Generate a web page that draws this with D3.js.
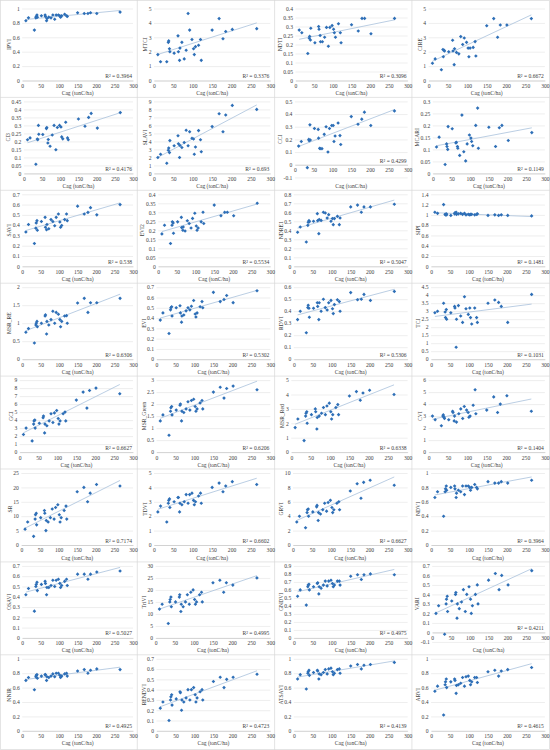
<!DOCTYPE html>
<html><head><meta charset="utf-8">
<script src="https://cdn.jsdelivr.net/npm/d3@7"></script>
<style>
body{margin:0;background:#fff}
svg{display:block}
text{font-family:"Liberation Serif","Times New Roman",serif;fill:#404040}
</style></head><body>
<svg id="c" width="550" height="750"></svg>
<script>
// ---------- DATA ----------
const cag = [10,17,33,37,38,40,41,52,62,63,66,67,72,78,83,88,92,98,102,104,107,115,120,122,150,168,178,185,202,265];
const xTicks = [0,50,100,150,200,250,300];
const xTitle = "Cag (tonC/ha)";
const indexNames = ["IPVI","MTCI","NDTI","CIRE","CI3","SLAVI","CCI","MCARI","SAVI","EVI2","NDRE1","SIPI","MSR_RE","EVI","RDVI","TCI","GCI","MSR_Green","MSR_Red","CVI","SR","TDVI","GRVI","NDVI","OSAVI","TriVI","GNDVI","VARI","NNIR","RENDVI","ATSAVI","ARVI"];
const yMin  = [0,0,0,0, 0,0,-0.1,0, 0,0,0,0, 0,0,0,0, 0,0,0,0, 0,0,0,0, 0,0,0,-0.1, 0,0,0,0];
const yMax  = [1,5,0.4,5, 0.45,9,0.5,0.3, 0.7,0.4,0.8,1.4, 2,0.7,0.6,4.5, 9,3,5,6, 25,5,10,1, 0.7,30,0.9,0.7, 1,0.7,1,1];
const yStep = [0.2,1,0.05,1, 0.05,1,0.1,0.05, 0.1,0.05,0.1,0.2, 0.5,0.1,0.1,0.5, 1,0.5,1,1, 5,1,2,0.2, 0.1,5,0.1,0.1, 0.2,0.1,0.2,0.2];
const r2Labels = ["0.3964","0.3376","0.3096","0.6672","0.4176","0.693","0.4299","0.1149","0.538","0.5534","0.5047","0.1481","0.6306","0.5302","0.5306","0.1031","0.6627","0.6206","0.6338","0.1404","0.7174","0.6602","0.6627","0.3964","0.5027","0.4995","0.4975","0.4211","0.4925","0.4723","0.4139","0.4615"];

const ipvi  = [0.83,0.87,0.70,0.87,0.89,0.91,0.88,0.90,0.91,0.89,0.83,0.86,0.88,0.87,0.91,0.85,0.91,0.91,0.90,0.88,0.90,0.92,0.90,0.89,0.94,0.93,0.93,0.94,0.93,0.95];
const mtci  = [1.8,1.3,1.3,2.65,2.75,2.2,2.0,1.9,3.1,2.0,1.4,2.25,2.65,1.5,2.1,4.65,3.5,2.85,2.2,1.8,2.35,2.45,2.85,1.4,3.5,4.3,2.9,3.4,3.55,3.6];
const ndti  = [0.28,0.265,0.15,0.235,0.245,0.225,0.29,0.21,0.30,0.285,0.25,0.215,0.215,0.24,0.295,0.19,0.295,0.305,0.285,0.265,0.24,0.315,0.265,0.21,0.31,0.275,0.345,0.345,0.26,0.345];
const cire  = [1.2,1.5,0.75,2.15,1.65,2.1,2.05,2.0,2.8,2.05,1.1,2.2,1.95,1.85,3.05,2.5,2.95,2.65,2.25,1.65,2.25,2.3,2.7,1.7,3.8,4.3,3.0,3.85,3.85,4.3];
const ci3   = [0.21,0.222,0.057,0.215,0.21,0.30,0.245,0.243,0.28,0.287,0.19,0.212,0.17,0.24,0.30,0.148,0.287,0.30,0.29,0.228,0.216,0.32,0.222,0.21,0.34,0.295,0.35,0.375,0.283,0.38];
const slavi = [1.98,2.4,1.26,2.9,3.16,2.6,4.1,3.45,4.7,3.7,1.98,3.5,3.24,3.87,5.4,3.45,5.2,4.4,4.3,2.4,3.3,5.35,4.2,2.7,5.85,7.45,5.2,7.3,8.5,8.0];
const cci   = [0.147,0.183,-0.023,0.20,0.19,0.315,0.195,0.286,0.279,0.21,0.13,0.127,0.127,0.24,0.30,0.10,0.286,0.31,0.31,0.183,0.227,0.33,0.23,0.16,0.38,0.32,0.36,0.415,0.31,0.425];
const mcari = [0.11,0.151,0.037,0.123,0.112,0.10,0.195,0.186,0.127,0.13,0.112,0.105,0.075,0.243,0.09,0.052,0.123,0.16,0.147,0.133,0.115,0.2,0.272,0.105,0.192,0.112,0.19,0.2,0.137,0.17];
const savi  = [0.333,0.406,0.222,0.371,0.422,0.444,0.35,0.435,0.476,0.38,0.355,0.406,0.365,0.454,0.435,0.394,0.476,0.508,0.43,0.38,0.397,0.454,0.508,0.444,0.585,0.508,0.524,0.57,0.50,0.60];
const evi2  = [0.18,0.228,0.127,0.228,0.247,0.241,0.184,0.247,0.272,0.215,0.20,0.218,0.196,0.253,0.238,0.213,0.266,0.295,0.224,0.20,0.213,0.247,0.30,0.238,0.34,0.281,0.30,0.30,0.281,0.35];
const ndre1 = [0.378,0.437,0.27,0.455,0.49,0.507,0.496,0.5,0.585,0.507,0.363,0.52,0.51,0.60,0.592,0.537,0.574,0.5,0.53,0.463,0.53,0.555,0.463,0.537,0.66,0.68,0.60,0.66,0.66,0.69];
const sipi  = [1.05,1.03,1.2,1.01,1.0,1.02,1.0,0.99,1.02,1.04,1.05,1.01,1.02,1.03,1.01,1.03,1.0,1.01,1.0,1.01,1.01,1.0,1.01,1.02,0.99,1.0,0.99,1.0,0.99,0.98];
const msrRe = [0.75,0.85,0.45,0.95,1.0,1.05,0.9,1.0,1.2,1.23,0.7,1.05,0.95,1.1,1.33,1.0,1.3,1.25,1.1,0.9,1.05,1.2,1.21,1.0,1.56,1.69,1.3,1.57,1.57,1.69];
const evi   = [0.38,0.45,0.25,0.48,0.50,0.51,0.42,0.50,0.52,0.45,0.36,0.42,0.43,0.47,0.50,0.48,0.515,0.57,0.44,0.41,0.45,0.51,0.56,0.50,0.65,0.56,0.58,0.62,0.55,0.665];
const rdvi  = [0.33,0.40,0.22,0.43,0.45,0.425,0.35,0.425,0.47,0.44,0.33,0.47,0.40,0.50,0.43,0.41,0.47,0.49,0.42,0.38,0.455,0.495,0.48,0.40,0.555,0.495,0.50,0.54,0.49,0.565];
const tci   = [2.9,3.0,3.5,2.95,2.6,3.1,2.5,2.9,3.3,3.2,0.75,2.5,3.35,2.7,2.3,3.9,3.15,2.8,3.2,2.6,2.2,3.2,2.6,2.3,3.5,3.7,3.55,3.3,2.3,4.05];
const gci   = [2.2,3.0,1.4,3.5,3.9,4.0,3.0,3.6,4.3,4.5,2.4,3.5,3.3,3.9,4.8,3.7,4.9,5.2,4.2,3.5,3.9,4.8,5.0,3.9,6.5,7.5,5.5,7.7,8.0,7.3];
const msrGreen = [1.3,1.55,0.7,1.7,1.85,1.9,1.55,1.75,1.95,2.0,1.3,1.7,1.65,1.8,2.1,1.75,2.15,2.2,1.9,1.7,1.8,2.05,2.15,1.8,2.5,2.7,2.25,2.65,2.75,2.6];
const msrRed   = [1.7,2.3,0.8,2.5,2.7,2.8,2.0,2.6,3.0,2.8,1.6,2.4,2.5,2.7,3.1,2.6,3.2,3.4,2.8,2.3,2.6,3.1,3.3,2.6,3.9,4.2,3.6,4.1,4.3,4.0];
const cvi   = [3.0,2.7,2.2,3.0,3.1,2.9,2.8,2.7,3.4,3.3,2.6,3.0,2.5,3.2,3.6,2.8,3.8,3.5,3.3,2.9,3.0,3.9,5.2,3.2,3.5,4.6,3.3,4.0,4.7,3.4];
const sr    = [5.5,8.0,3.0,9.0,10.5,11.0,7.0,9.5,12.0,11.0,5.0,8.5,8.0,9.5,12.5,9.0,13.0,14.0,10.5,8.0,9.5,12.0,13.5,9.0,18.5,20.0,15.0,18.0,21.0,20.5];
const tdvi  = [2.3,2.7,1.6,2.9,3.1,3.2,2.6,3.0,3.3,3.3,2.3,2.9,2.8,3.0,3.5,2.9,3.5,3.6,3.1,2.8,3.0,3.4,3.6,2.9,4.0,4.3,3.7,4.1,4.4,4.2];
const grvi  = [3.2,4.0,2.4,4.5,4.9,5.0,4.0,4.6,5.3,5.5,3.4,4.5,4.3,4.9,5.8,4.7,5.9,6.2,5.2,4.5,4.9,5.8,6.0,4.9,7.5,8.5,6.5,8.7,9.0,8.3];
const ndvi  = [0.66,0.74,0.40,0.74,0.78,0.82,0.76,0.80,0.82,0.78,0.66,0.72,0.76,0.74,0.82,0.70,0.82,0.82,0.80,0.76,0.80,0.84,0.80,0.78,0.88,0.86,0.86,0.88,0.86,0.90];
const osavi = [0.42,0.48,0.26,0.50,0.52,0.54,0.46,0.52,0.55,0.53,0.42,0.49,0.49,0.51,0.56,0.50,0.56,0.57,0.53,0.49,0.51,0.55,0.57,0.51,0.62,0.62,0.57,0.62,0.64,0.65];
const trivi = [12,14,6,15,16,17,13,15,17,18,11,14,13,15,18,14,19,20,16,14,15,18,19,15,23,24,19,23,22,25];
const gndvi = [0.52,0.60,0.41,0.64,0.66,0.67,0.60,0.64,0.68,0.69,0.55,0.64,0.62,0.66,0.71,0.65,0.71,0.72,0.68,0.64,0.66,0.71,0.71,0.66,0.77,0.79,0.73,0.79,0.80,0.79];
const vari  = [0.20,0.28,-0.02,0.30,0.35,0.38,0.22,0.33,0.40,0.42,0.15,0.30,0.25,0.32,0.45,0.22,0.40,0.48,0.35,0.20,0.28,0.40,0.50,0.30,0.55,0.62,0.45,0.60,0.50,0.65];
const nnir  = [0.70,0.74,0.57,0.75,0.77,0.78,0.73,0.76,0.78,0.78,0.70,0.75,0.74,0.76,0.79,0.75,0.80,0.80,0.77,0.74,0.76,0.79,0.80,0.76,0.83,0.85,0.80,0.84,0.86,0.85];
const rendvi = [0.22,0.28,0.10,0.30,0.33,0.35,0.25,0.31,0.38,0.37,0.20,0.30,0.28,0.32,0.40,0.30,0.40,0.42,0.35,0.28,0.32,0.38,0.40,0.30,0.48,0.52,0.42,0.50,0.52,0.55];
const atsavi = [0.72,0.78,0.58,0.80,0.82,0.84,0.77,0.81,0.84,0.83,0.72,0.79,0.78,0.81,0.85,0.79,0.86,0.87,0.82,0.78,0.80,0.85,0.86,0.80,0.90,0.92,0.86,0.91,0.92,0.95];
const arvi  = [0.55,0.62,0.22,0.64,0.68,0.72,0.60,0.68,0.72,0.70,0.52,0.63,0.64,0.66,0.74,0.62,0.75,0.76,0.70,0.64,0.68,0.74,0.74,0.67,0.82,0.84,0.76,0.83,0.85,0.88];

const seriesList = [ipvi,mtci,ndti,cire,ci3,slavi,cci,mcari,savi,evi2,ndre1,sipi,msrRe,evi,rdvi,tci,gci,msrGreen,msrRed,cvi,sr,tdvi,grvi,ndvi,osavi,trivi,gndvi,vari,nnir,rendvi,atsavi,arvi];

// ---------- DRAW ----------
const svg = d3.select("#c");
const fs = 5.6;
const rowH = 92.9, colW = 137.3;
const fmt = v => String(+v.toFixed(3));
const meas = svg.append("text").style("font-size", fs + "px");
const tw = s => { meas.text(s); return meas.node().getComputedTextLength(); };

// panel separators
const sep = svg.append("g").attr("stroke", "#d9d9d9").attr("stroke-width", 0.7).attr("fill", "none");
sep.append("rect").attr("x", 0.5).attr("y", 0.5).attr("width", 549).attr("height", 749);
[1,2,3].forEach(c => sep.append("line").attr("x1", c*colW).attr("x2", c*colW).attr("y1", 0).attr("y2", 750));
d3.range(1, 8).forEach(r => sep.append("line").attr("x1", 0).attr("x2", 550).attr("y1", r*rowH + 4.5).attr("y2", r*rowH + 4.5));

indexNames.forEach((name, i) => {
  const vals = seriesList[i];
  const r = Math.floor(i / 4), c = i % 4;
  const x0 = c * colW, y0 = r * rowH;
  const ticks = d3.range(yMin[i], yMax[i] + yStep[i] / 2, yStep[i]).map(v => +v.toFixed(4));
  const w = d3.max(ticks.map(fmt), tw);
  const left = x0 + 15 + 0.6 * w + (c === 0 ? 3 : 0);
  const right = x0 + 133;
  const top = y0 + 8.5;
  const neg = yMin[i] < 0;
  const bottom = y0 + 80.5 + (neg ? 4 : 0);
  const x = d3.scaleLinear().domain([0, 300]).range([left, right]);
  const y = d3.scaleLinear().domain([yMin[i], yMax[i]]).range([bottom, top]);
  const g = svg.append("g");

  // gridlines
  g.append("g").attr("transform", `translate(${left},0)`)
    .call(d3.axisLeft(y).tickValues(ticks).tickSize(-(right - left)).tickFormat(""))
    .call(s => s.select(".domain").remove())
    .call(s => s.selectAll("line").attr("stroke", "#dcdcdc").attr("stroke-width", 0.5));

  // y labels
  g.append("g").attr("transform", `translate(${left},0)`)
    .call(d3.axisLeft(y).tickValues(ticks).tickSize(0).tickPadding(2.5).tickFormat(fmt))
    .call(s => s.select(".domain").remove())
    .call(s => s.selectAll("text").style("font-size", fs + "px").attr("fill", "#404040")
      .style("font-family", '"Liberation Serif","Times New Roman",serif'));

  // x axis at y=0
  g.append("g").attr("transform", `translate(0,${y(0)})`)
    .call(d3.axisBottom(x).tickValues(xTicks).tickSize(0).tickPadding(3.5).tickFormat(d3.format("d")))
    .call(s => s.select(".domain").attr("stroke", "#bfbfbf").attr("stroke-width", 0.6))
    .call(s => s.selectAll("text").style("font-size", fs + "px").attr("fill", "#404040")
      .style("font-family", '"Liberation Serif","Times New Roman",serif'));

  // x title
  g.append("text").attr("x", (left + right) / 2).attr("y", y0 + 95)
    .attr("text-anchor", "middle").style("font-size", fs + "px").text(xTitle);

  // y title
  g.append("text").attr("transform", `translate(${left - w - 4},${(top + bottom) / 2}) rotate(-90)`)
    .attr("text-anchor", "middle").style("font-size", fs + "px").text(name);

  // trendline (least squares)
  const mx = d3.mean(cag), my = d3.mean(vals);
  const sxy = d3.sum(cag, (d, k) => (d - mx) * (vals[k] - my));
  const sxx = d3.sum(cag, d => (d - mx) * (d - mx));
  const b = sxy / sxx, a = my - b * mx;
  const [xa, xb] = d3.extent(cag);
  g.append("line").attr("x1", x(xa)).attr("x2", x(xb)).attr("y1", y(a + b * xa)).attr("y2", y(a + b * xb))
    .attr("stroke", "#a9c1dc").attr("stroke-width", 0.8);

  // points
  g.append("g").selectAll("path").data(vals).join("path")
    .attr("transform", (d, k) => `translate(${x(cag[k])},${y(d)}) rotate(45)`)
    .attr("d", d3.symbol(d3.symbolSquare, 6.5))
    .attr("fill", "#2e6fb7");

  // R² label (kept clear of the x tick labels)
  g.append("text").attr("x", right - 1).attr("y", neg ? y(0) - 2 : bottom - 2.5)
    .attr("text-anchor", "end").style("font-size", fs + "px").text("R² = " + r2Labels[i]);
});
meas.remove();
</script>
</body></html>
